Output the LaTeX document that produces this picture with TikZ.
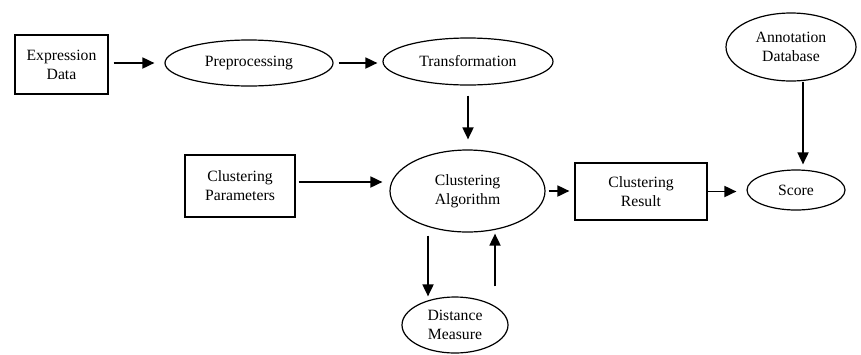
\documentclass[tikz,border=0pt]{standalone}
\usepackage{fontspec}
\setmainfont{Liberation Serif}
\usetikzlibrary{shapes.geometric,arrows.meta}
\begin{document}
\begin{tikzpicture}[x=1pt,y=-1pt,
  every node/.style={font=\fontsize{15.7}{19}\selectfont, align=center, inner sep=0pt},
  boxnode/.style={draw, line width=1.2pt, rectangle},
  ellnode/.style={draw, line width=1.2pt, ellipse},
  arr/.style={line width=1.8pt, -{Triangle[length=12pt,width=11pt]}}]
\useasboundingbox (0,0) rectangle (861,354);
\node[boxnode, minimum width=93pt, minimum height=59pt] (expr) at (61.5,64.5) {Expression\\Data};
\node[ellnode, minimum width=168pt, minimum height=46pt] (pre) at (249,63) {Preprocessing};
\node[ellnode, minimum width=170pt, minimum height=47pt] (trans) at (468,61.5) {Transformation};
\node[ellnode, minimum width=130pt, minimum height=68pt] (annot) at (791,47) {Annotation\\Database};
\node[boxnode, minimum width=110pt, minimum height=62pt] (param) at (240,186) {Clustering\\Parameters};
\node[ellnode, minimum width=155pt, minimum height=82pt] (algo) at (467.5,191) {Clustering\\Algorithm};
\node[boxnode, minimum width=132pt, minimum height=57pt] (result) at (641,191.5) {Clustering\\Result};
\node[ellnode, minimum width=98pt, minimum height=40pt] (score) at (796,190) {Score};
\node[ellnode, minimum width=106pt, minimum height=56pt] (dist) at (455,325) {Distance\\Measure};

\draw[arr, shorten <=5pt, shorten >=10pt] (expr.east |- pre.west) -- (pre.west);
\draw[arr, shorten <=5pt, shorten >=5pt] (pre.east) -- (pre.east -| trans.west);
\draw[arr, shorten <=10pt, shorten >=10pt] (trans.south) -- (trans.south |- algo.north);
\draw[arr, shorten <=3pt, shorten >=7pt] ([yshift=4pt]param.east) -- ([yshift=4pt]param.east -| algo.west);
\draw[arr, shorten <=3pt, shorten >=5pt] (algo.east) -- (algo.east -| result.west);
\draw[arr, shorten >=10pt] (result.east) -- (result.east -| score.west);
\draw[arr, shorten >=5pt] ([xshift=12pt]annot.south) -- ([xshift=12pt]annot.south |- score.north);
\draw[arr, shorten <=3pt] ([xshift=-39.5pt]algo.south) -- ([xshift=-39.5pt]algo.south |- dist.north);
\draw[arr, shorten <=10pt, shorten >=1pt] ([xshift=40pt]dist.north) -- ([xshift=40pt]dist.north |- algo.south);
\end{tikzpicture}
\end{document}
